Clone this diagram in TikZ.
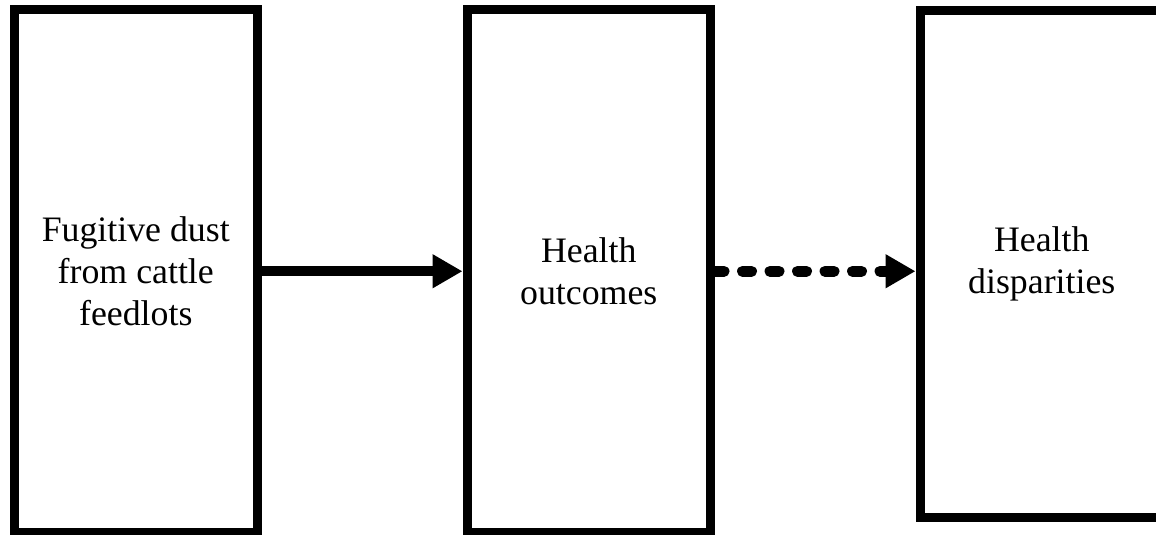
\documentclass[tikz,border=0pt]{standalone}
\usepackage{fontspec}
\setmainfont{Liberation Serif}
\usetikzlibrary{arrows.meta, positioning}

\begin{document}
\begin{tikzpicture}[
    node distance=100.25pt,
    stage/.style={rectangle, draw, line width=4.5pt, fill=white, minimum width=121.75pt, minimum height=261.25pt, align=center, inner sep=0pt, font=\fontsize{17.9}{21}\selectfont},
    arrow/.style={-{Triangle[length=15pt, width=16pt]}, line width=5pt},
    dasharrow/.style={-{Triangle[length=15pt, width=16pt]}, line width=5.5pt, line cap=round, dash pattern=on 4.5pt off 9.25pt}
]

% Canvas
\useasboundingbox (0,0) rectangle (578pt,-267.5pt);

% Stages
\node[stage] (dust) at (67.875pt,-135.625pt) {Fugitive dust\\from cattle\\feedlots};
\node[stage, right=of dust] (outcomes) {Health\\outcomes};
\node[stage, right=of outcomes, minimum height=253.75pt, yshift=3.6pt] (disparities) {Health\\disparities};

% Arrows
\draw[arrow] (dust) -- (outcomes);
\draw[dasharrow] (outcomes.east) -- (outcomes.east -| disparities.west);

\end{tikzpicture}
\end{document}
